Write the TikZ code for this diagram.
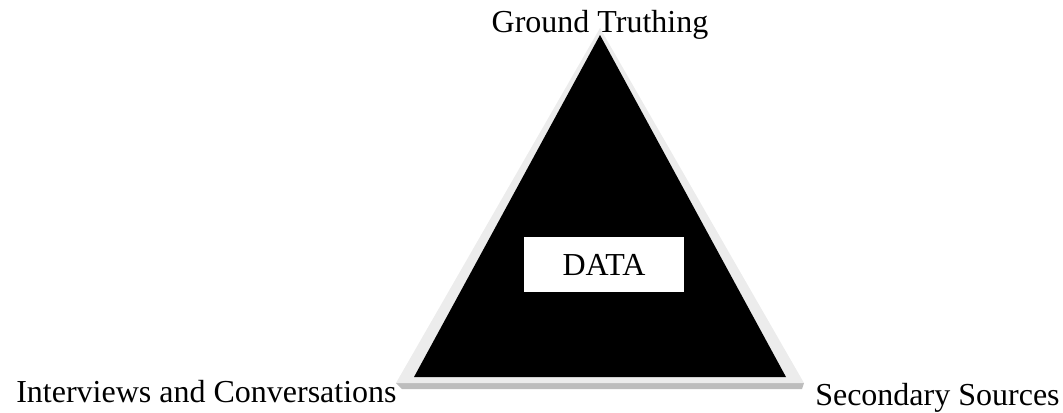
\documentclass[tikz,border=0pt]{standalone}
\usepackage{fontspec}
\setmainfont{Liberation Serif}
\usetikzlibrary{calc}
\tikzstyle{corner}=[inner sep=0pt, font=\fontsize{24}{28}\selectfont]
\tikzstyle{databox}=[fill=white, minimum width=120pt, minimum height=41pt, inner sep=0pt, font=\fontsize{24}{28}\selectfont]
\definecolor{bevel}{HTML}{ECECEC}
\definecolor{bevelshade}{HTML}{BDBDBD}

\begin{document}
\begin{tikzpicture}[x=0.75pt, y=-0.75pt]
    \useasboundingbox (0, 0) rectangle (1063, 412);

    % triangle: shade, bevel, then the black face
    \coordinate (top) at (600, 28);
    \coordinate (left) at (396, 383);
    \coordinate (right) at (804, 383);
    \fill[bevelshade] ($(left)+(6,6)$) -- ($(right)+(-2,6)$) -- (right) -- (left) -- cycle;
    \fill[bevel] (top) -- (right) -- (left) -- cycle;
    \fill[black] (600, 35) -- (786, 377) -- (414, 377) -- cycle;

    \node[databox] (data) at (604, 264.5) {DATA};

    \node[corner, anchor=base] (ground) at (600, 32) {Ground Truthing};
    \node[corner, anchor=base west] (interviews) at (16, 402) {Interviews and Conversations};
    \node[corner, anchor=base west] (secondary) at (815, 405) {Secondary Sources};
\end{tikzpicture}
\end{document}
